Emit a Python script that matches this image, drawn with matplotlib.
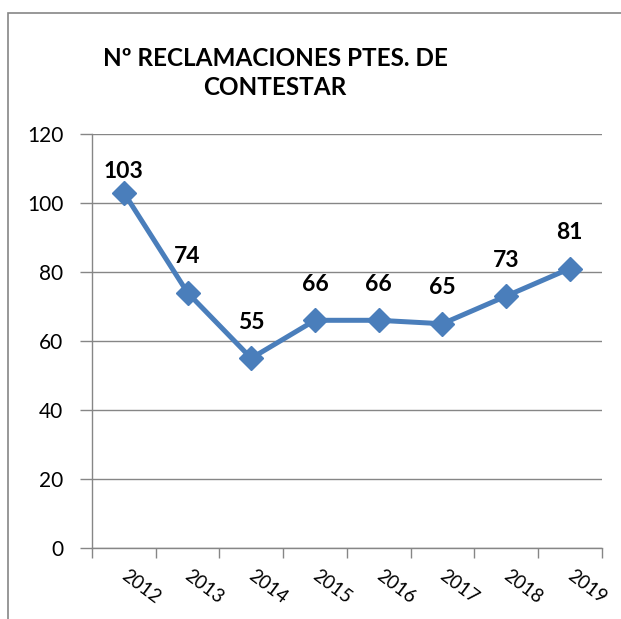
import matplotlib
matplotlib.use("Agg")
import matplotlib.pyplot as plt
from matplotlib.patches import Rectangle

years = ["2012", "2013", "2014", "2015", "2016", "2017", "2018", "2019"]
values = [103, 74, 55, 66, 66, 65, 73, 81]
yticks = [0, 20, 40, 60, 80, 100, 120]
title = "Nº RECLAMACIONES PTES. DE\nCONTESTAR"

W, H = 621, 619
fig = plt.figure(figsize=(W / 100, H / 100), dpi=100)
fig.patch.set_facecolor("white")

# outer chart frame
fig.patches.append(Rectangle((8 / W, -0.2), 1.5, 1.2 - 13 / H,
                             transform=fig.transFigure, fill=False,
                             edgecolor="#868686", lw=1.2))

ax = fig.add_axes([92 / W, 1 - 548 / H, (601.6 - 92) / W, (548 - 134) / H])
font = "Lato"
grey = "#868686"
blue = "#4A7EBB"

x = list(range(len(years)))
ax.plot(x, values, color=blue, lw=3.6, marker="D", markersize=12,
        markerfacecolor=blue, markeredgecolor=blue, zorder=3, clip_on=False)

ax.set_xlim(-0.5, len(years) - 0.5)
ax.set_ylim(0, 120)
ax.set_yticks(yticks)
ax.set_yticklabels([str(t) for t in yticks], fontsize=15, fontname=font)
ax.yaxis.grid(True, color=grey, lw=1.0)
ax.set_axisbelow(True)

ax.set_xticks([i - 0.5 for i in range(len(years) + 1)])
ax.set_xticklabels([])
ax.tick_params(axis="x", length=7, width=1, color=grey, direction="out")
ax.tick_params(axis="y", length=9, width=1, color=grey, direction="out", pad=11.5)
for i, yr in enumerate(years):
    ax.annotate(yr, (i, 0), xytext=(-0.5, -18.5), textcoords="offset points",
                rotation=-37, rotation_mode="anchor", ha="left", va="center",
                fontsize=13.5, fontname=font)

for s in ["top", "right"]:
    ax.spines[s].set_visible(False)
for s in ["left", "bottom"]:
    ax.spines[s].set_color(grey)
    ax.spines[s].set_linewidth(1.0)

# data labels (pushed down to stay inside the plot area)
px_per_unit = (548 - 134) / 120
for i, v in enumerate(values):
    top_space = (120 - v) * px_per_unit  # px to top of plot
    off_px = min(36, top_space - 38)
    ax.annotate(str(v), (i, v), xytext=(0, off_px * 72 / 100),
                textcoords="offset points", ha="center", va="center",
                fontsize=16.5, fontweight="bold", fontname=font)

fig.text(275 / W, 1 - 73 / H, title, ha="center", va="center",
         fontsize=17.5, fontweight="bold", fontname=font, linespacing=1.3)

fig.savefig("out.png", dpi=100, facecolor="white")
